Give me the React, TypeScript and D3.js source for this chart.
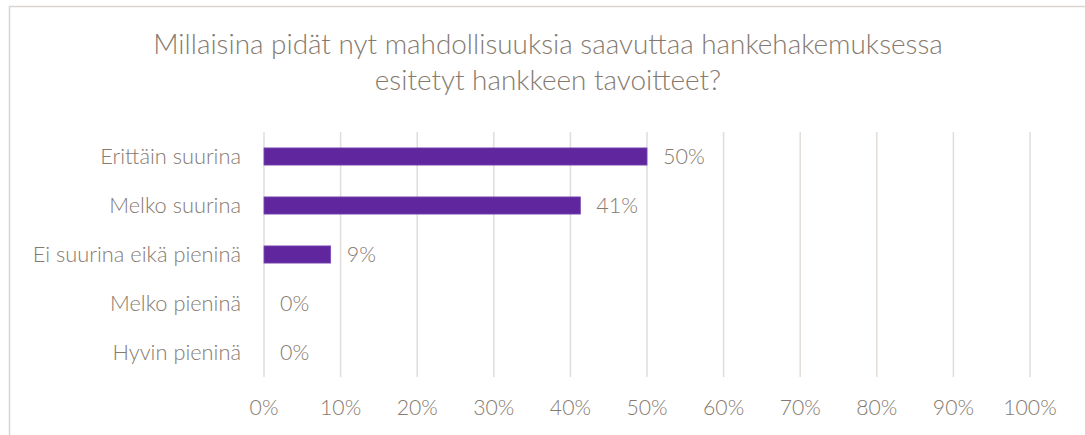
import React from "react";
import * as d3 from "d3";

const titleLines = [
  "Millaisina pidät nyt mahdollisuuksia saavuttaa hankehakemuksessa",
  "esitetyt hankkeen tavoitteet?",
];
const categories = [
  "Erittäin suurina",
  "Melko suurina",
  "Ei suurina eikä pieninä",
  "Melko pieninä",
  "Hyvin pieninä",
];
const values = [50, 41.3, 8.7, 0, 0];
const ticks = [0, 10, 20, 30, 40, 50, 60, 70, 80, 90, 100];

const W = 1085;
const H = 435;
const TEXT = "#857a6f";
const GRID = "#e2ddd8";
const BAR = "#60269e";
const FONT = "Lato, 'Open Sans', sans-serif";

export default function App() {
  const x = d3.scaleLinear().domain([0, 100]).range([264, 1030]);
  const y = d3
    .scaleBand<string>()
    .domain(categories)
    .range([132, 377])
    .paddingInner(0.65)
    .paddingOuter(0.325);

  return (
    <svg
      width={W}
      height={H}
      style={{ position: "absolute", left: 0, top: 0, background: "#fff" }}
      fontFamily={FONT}
    >
      <rect x={9.5} y={6.5} width={W} height={H} fill="#fff" stroke="#dad5d0" strokeWidth={1.5} />
      {titleLines.map((t, i) => (
        <text
          key={i}
          x={548}
          y={54 + i * 36}
          textAnchor="middle"
          fontSize={27.9}
          fill={TEXT}
          fontWeight={300}
        >
          {t}
        </text>
      ))}
      {ticks.map((t) => (
        <g key={t}>
          <line x1={x(t)} x2={x(t)} y1={132} y2={377} stroke={GRID} strokeWidth={1.5} />
          <text x={x(t)} y={415} textAnchor="middle" fontSize={21.2} fill={TEXT} fontWeight={300}>
            {t}%
          </text>
        </g>
      ))}
      {categories.map((c, i) => {
        const yc = (y(c) as number) + y.bandwidth() / 2;
        return (
          <g key={c}>
            <text x={241} y={yc} dy="0.35em" textAnchor="end" fontSize={21.8} fill={TEXT} fontWeight={300}>
              {c}
            </text>
            {values[i] > 0 && (
              <rect
                x={x(0)}
                y={y(c) as number}
                width={x(values[i]) - x(0)}
                height={y.bandwidth()}
                fill={BAR}
                stroke="#7a4db3"
                strokeWidth={0.8}
              />
            )}
            <text x={x(values[i]) + 16} y={yc} dy="0.35em" fontSize={21.5} fill={TEXT} fontWeight={300}>
              {d3.format(".0f")(values[i])}%
            </text>
          </g>
        );
      })}
    </svg>
  );
}
